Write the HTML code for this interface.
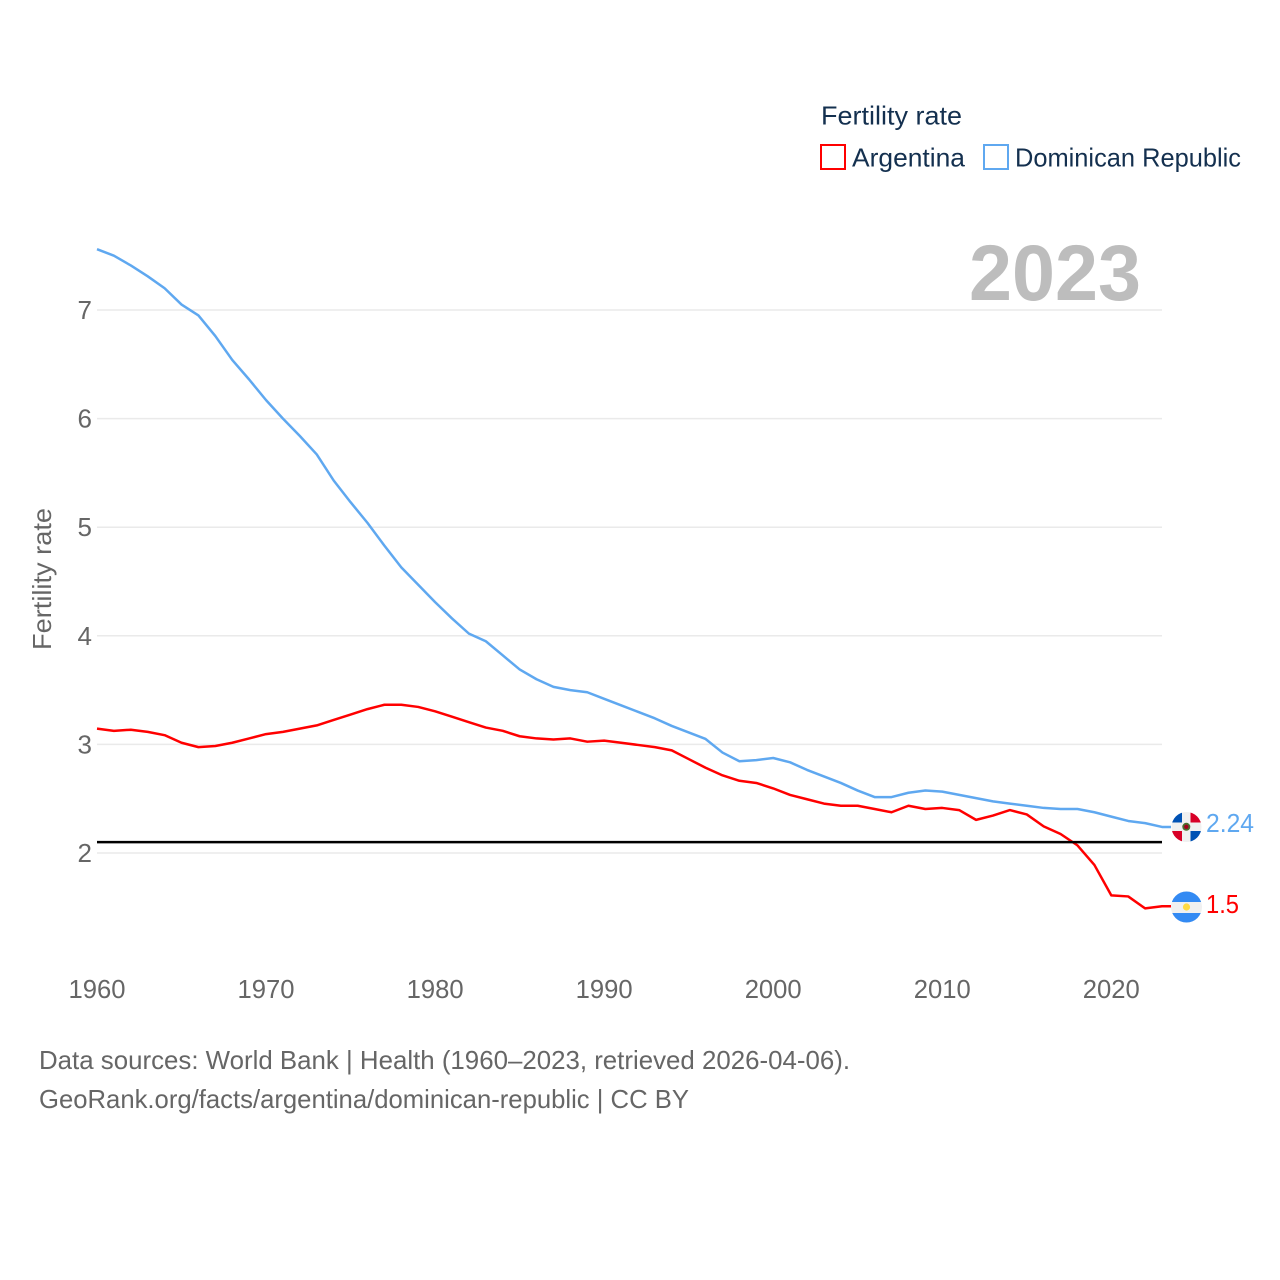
<!DOCTYPE html>
<html lang="en">
<head>
<meta charset="utf-8">
<title>Fertility rate: Argentina and Dominican Republic</title>
<style>
html,body{margin:0;padding:0;background:#fff;}
svg{display:block;}
text{font-family:"Liberation Sans",sans-serif;}
</style>
</head>
<body>
<svg id="chart" xmlns="http://www.w3.org/2000/svg" width="1280" height="1280" viewBox="0 0 1280 1280">
  <rect x="0" y="0" width="1280" height="1280" fill="#fff"/>
  <g id="grid"></g>
  <g id="yticks"></g>
  <g id="xticks"></g>
  <text transform="translate(51,650) rotate(-90)" font-size="26" fill="#666" textLength="142" lengthAdjust="spacingAndGlyphs">Fertility rate</text>
  <text x="969" y="300" font-size="79" font-weight="700" fill="#bdbdbd" textLength="172" lengthAdjust="spacingAndGlyphs">2023</text>
  <g id="lines"></g>
  <g id="ref"></g>

  <g>
    <text x="821" y="124.5" font-size="26" fill="#14304f" textLength="141" lengthAdjust="spacingAndGlyphs">Fertility rate</text>
    <rect x="821" y="145" width="24" height="24" fill="#fff" stroke="#ff0000" stroke-width="2"/>
    <text x="852" y="166.5" font-size="26" fill="#14304f" textLength="113" lengthAdjust="spacingAndGlyphs">Argentina</text>
    <rect x="984" y="145" width="24" height="24" fill="#fff" stroke="#5fa8f0" stroke-width="2"/>
    <text x="1015" y="166.5" font-size="26" fill="#14304f" textLength="226" lengthAdjust="spacingAndGlyphs">Dominican Republic</text>
  </g>

  <g>
    <clipPath id="clipDo"><circle cx="1186.5" cy="827" r="15"/></clipPath>
    <g clip-path="url(#clipDo)">
      <rect x="1171" y="812" width="31" height="30" fill="#f0f0f0"/>
      <rect x="1171" y="812" width="11" height="10.5" fill="#0052b4"/>
      <rect x="1190.5" y="812" width="11" height="10.5" fill="#d80027"/>
      <rect x="1171" y="831" width="11" height="11" fill="#d80027"/>
      <rect x="1190.5" y="831" width="11" height="11" fill="#0052b4"/>
      <circle cx="1186.3" cy="826.8" r="4" fill="#496e2d"/>
      <circle cx="1186.3" cy="826.8" r="2.2" fill="#a2001d"/>
    </g>
  </g>
  <g>
    <clipPath id="clipAr"><circle cx="1186.5" cy="907" r="15.5"/></clipPath>
    <g clip-path="url(#clipAr)">
      <rect x="1170" y="891" width="33" height="32" fill="#f0f0f0"/>
      <rect x="1170" y="891" width="33" height="11" fill="#338af3"/>
      <rect x="1170" y="913" width="33" height="10" fill="#338af3"/>
      <circle cx="1186.5" cy="907" r="3.6" fill="#ffda44"/>
    </g>
  </g>
  <text x="1206" y="832" font-size="26" fill="#5fa8f0" textLength="48" lengthAdjust="spacingAndGlyphs">2.24</text>
  <text x="1206" y="913" font-size="26" fill="#ff0000" textLength="33" lengthAdjust="spacingAndGlyphs">1.5</text>

  <g>
    <text x="39" y="1069" font-size="26" fill="#666" textLength="811" lengthAdjust="spacingAndGlyphs">Data sources: World Bank | Health (1960–2023, retrieved 2026-04-06).</text>
    <text x="39" y="1108" font-size="26" fill="#666" textLength="650" lengthAdjust="spacingAndGlyphs">GeoRank.org/facts/argentina/dominican-republic | CC BY</text>
  </g>
</svg>
<script>
const startYear = 1960;
const argentinaValues = [3.145,3.125,3.135,3.115,3.085,3.015,2.975,2.985,3.015,3.055,3.095,3.115,3.145,3.175,3.225,3.275,3.325,3.365,3.365,3.345,3.305,3.255,3.205,3.155,3.125,3.075,3.055,3.045,3.055,3.025,3.035,3.015,2.995,2.975,2.945,2.865,2.785,2.715,2.665,2.645,2.595,2.535,2.495,2.455,2.435,2.435,2.405,2.375,2.435,2.405,2.415,2.395,2.305,2.345,2.395,2.355,2.245,2.175,2.07,1.89,1.61,1.60,1.49,1.51];
const dominicanValues = [7.56,7.50,7.41,7.31,7.20,7.05,6.95,6.76,6.54,6.36,6.17,6.00,5.84,5.67,5.43,5.23,5.04,4.83,4.63,4.47,4.31,4.16,4.02,3.95,3.82,3.69,3.60,3.53,3.50,3.48,3.42,3.36,3.30,3.24,3.17,3.11,3.05,2.925,2.845,2.855,2.875,2.835,2.765,2.705,2.645,2.575,2.515,2.515,2.555,2.575,2.565,2.535,2.505,2.475,2.455,2.435,2.415,2.405,2.405,2.375,2.335,2.295,2.275,2.24];
const yTicks = [2,3,4,5,6,7];
const xTicks = [1960,1970,1980,1990,2000,2010,2020];
const referenceValue = 2.1;

const NS = 'http://www.w3.org/2000/svg';
function xScale(year){ return 97 + (year - 1960) * 16.905; }
function yScale(v){ return 853 - (v - 2) * 108.6; }

const grid = document.getElementById('grid');
const yGroup = document.getElementById('yticks');
yTicks.forEach(function(t){
  const l = document.createElementNS(NS,'line');
  
  
  l.setAttribute('x1', 97);
  l.setAttribute('x2', 1162);
  l.setAttribute('y1', yScale(t));
  l.setAttribute('y2', yScale(t));
  l.setAttribute('stroke', '#eaeaea');
  l.setAttribute('stroke-width', '1.5');
  grid.appendChild(l);
  const s = document.createElementNS(NS,'text');
  
  
  s.setAttribute('x', 92);
  s.setAttribute('y', yScale(t) + 9);
  s.setAttribute('text-anchor', 'end');
  s.setAttribute('font-size', '26');
  s.setAttribute('fill', '#666');
  s.textContent = t;
  yGroup.appendChild(s);
});

const xGroup = document.getElementById('xticks');
xTicks.forEach(function(t){
  const s = document.createElementNS(NS,'text');
  
  
  s.setAttribute('x', xScale(t));
  s.setAttribute('y', 998);
  s.setAttribute('text-anchor', 'middle');
  s.setAttribute('font-size', '26');
  s.setAttribute('fill', '#666');
  s.setAttribute('textLength', '57');
  s.setAttribute('lengthAdjust', 'spacingAndGlyphs');
  s.textContent = t;
  xGroup.appendChild(s);
});

function linePoints(values){
  const pts = values.map(function(v,i){ return xScale(startYear + i).toFixed(2) + ',' + yScale(v).toFixed(2); });
  pts.push('1171,' + yScale(values[values.length - 1]).toFixed(2));
  return pts.join(' ');
}
const lines = document.getElementById('lines');

const domLine = document.createElementNS(NS,'polyline');


domLine.setAttribute('points', linePoints(dominicanValues));
domLine.setAttribute('fill', 'none');
domLine.setAttribute('stroke', '#5fa8f0');
domLine.setAttribute('stroke-width', '2.5');
domLine.setAttribute('stroke-linejoin', 'round');
lines.appendChild(domLine);

const argLine = document.createElementNS(NS,'polyline');


argLine.setAttribute('points', linePoints(argentinaValues));
argLine.setAttribute('fill', 'none');
argLine.setAttribute('stroke', '#ff0000');
argLine.setAttribute('stroke-width', '2.5');
argLine.setAttribute('stroke-linejoin', 'round');
lines.appendChild(argLine);

const refLine = document.createElementNS(NS,'line');


refLine.setAttribute('x1', 97);
refLine.setAttribute('x2', 1162);
refLine.setAttribute('y1', yScale(referenceValue));
refLine.setAttribute('y2', yScale(referenceValue));
refLine.setAttribute('stroke', '#000');
refLine.setAttribute('stroke-width', '2.5');
document.getElementById('ref').appendChild(refLine);
</script>
</body>
</html>
